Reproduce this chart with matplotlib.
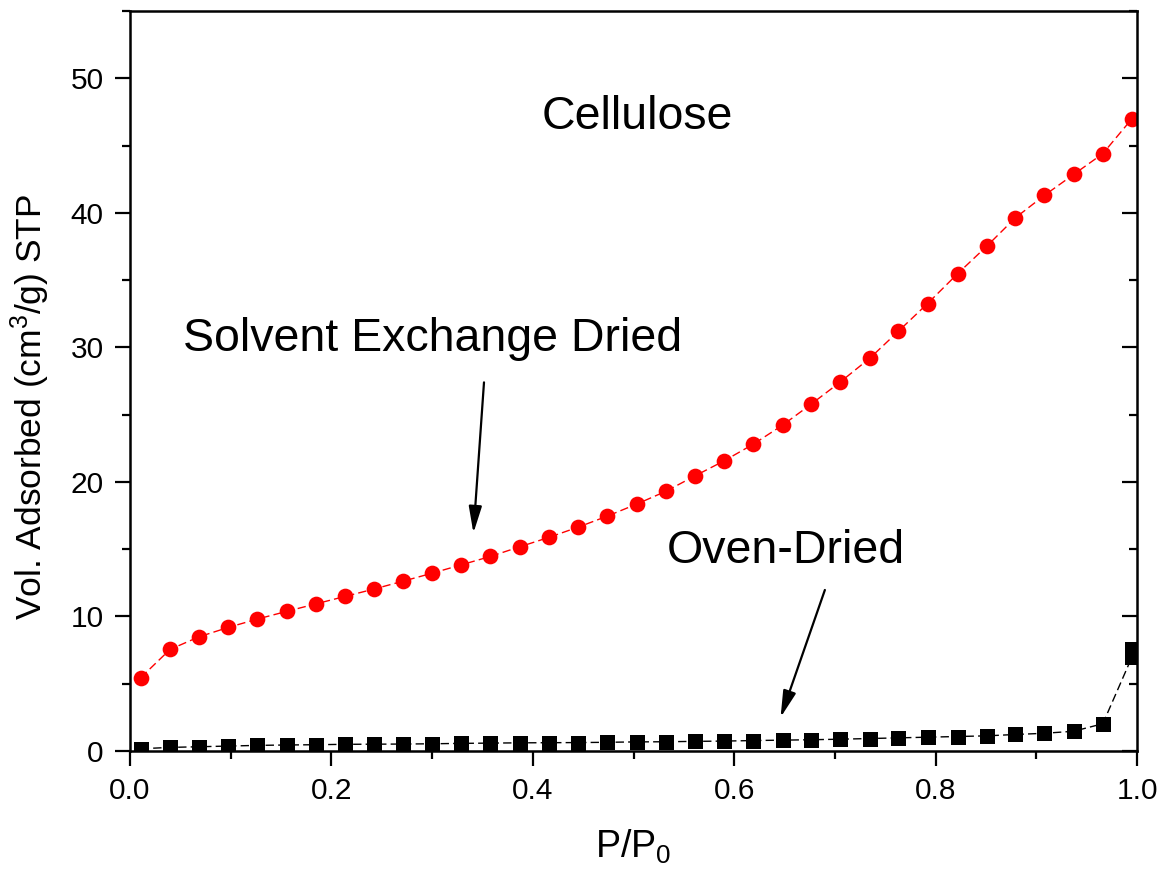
import matplotlib
matplotlib.use("Agg")
import matplotlib.pyplot as plt
from matplotlib.ticker import MultipleLocator

plt.rcParams['font.family'] = ['Liberation Sans', 'DejaVu Sans']
plt.rcParams['mathtext.fontset'] = 'custom'
plt.rcParams['mathtext.rm'] = 'Liberation Sans'
plt.rcParams['mathtext.it'] = 'Liberation Sans'

# ---- data ----
p_p0 = [0.0106, 0.0397, 0.0685, 0.0977, 0.1265, 0.1556, 0.1847, 0.2135, 0.2423,
        0.2714, 0.3002, 0.329, 0.3578, 0.387, 0.416, 0.445, 0.474, 0.503, 0.532,
        0.561, 0.590, 0.619, 0.648, 0.676, 0.705, 0.735, 0.763, 0.792, 0.822,
        0.851, 0.879, 0.908, 0.937, 0.966, 0.995]
solvent_vol = [5.45, 7.55, 8.49, 9.19, 9.81, 10.38, 10.94, 11.49, 12.04, 12.63,
               13.22, 13.84, 14.46, 15.18, 15.88, 16.64, 17.46, 18.35, 19.3,
               20.45, 21.57, 22.81, 24.22, 25.76, 27.41, 29.22, 31.2, 33.26,
               35.49, 37.54, 39.62, 41.3, 42.85, 44.4, 47.0]
oven_p_p0 = p_p0 + [0.995]
oven_vol = [0.17, 0.27, 0.32, 0.37, 0.42, 0.45, 0.47, 0.50, 0.51, 0.52, 0.54,
            0.57, 0.59, 0.61, 0.62, 0.63, 0.65, 0.68, 0.69, 0.72, 0.74, 0.78,
            0.81, 0.84, 0.88, 0.93, 0.98, 1.03, 1.08, 1.13, 1.23, 1.32, 1.47,
            2.03, 7.0, 7.6]

fig = plt.figure(figsize=(11.63, 8.73), dpi=100)
ax = fig.add_axes([0.1118, 0.1397, 0.8659, 0.8477])

ax.plot(p_p0, solvent_vol, color='red', lw=1.0, linestyle=(0, (6, 3)),
        marker='o', ms=11.3, mec='red', mfc='red', mew=0)
ax.plot(oven_p_p0, oven_vol, color='black', lw=1.0, linestyle=(0, (6, 3)),
        marker='s', ms=10.8, mec='black', mfc='black', mew=0)

ax.set_xlim(0, 1.0)
ax.set_ylim(0, 55)
ax.xaxis.set_major_locator(MultipleLocator(0.2))
ax.xaxis.set_minor_locator(MultipleLocator(0.1))
ax.yaxis.set_major_locator(MultipleLocator(10))
ax.yaxis.set_minor_locator(MultipleLocator(5))
ax.xaxis.set_major_formatter(plt.FuncFormatter(lambda v, p: f"{v:.1f}"))

for s in ax.spines.values():
    s.set_linewidth(1.8)

ax.tick_params(axis='both', which='major', direction='out', length=11, width=1.6,
               labelsize=21.5, pad=8, right=True)
ax.tick_params(axis='both', which='minor', direction='out', length=5.5, width=1.6,
               right=True)
# right-side ticks point inward
for t in ax.yaxis.get_major_ticks() + ax.yaxis.get_minor_ticks():
    t.tick2line.set_marker(matplotlib.lines.TICKLEFT)

ax.set_ylabel("Vol. Adsorbed (cm$^3$/g) STP", fontsize=25.5)
ax.yaxis.set_label_coords(-0.077, 0.465)
ax.set_xlabel("P/P$_0$", fontsize=27)
ax.xaxis.set_label_coords(0.5, -0.103)

ax.text(0.504, 46.2, "Cellulose", fontsize=33.5, ha='center', va='baseline')
ax.text(0.0526, 29.7, "Solvent Exchange Dried", fontsize=33.5, ha='left', va='baseline')
ax.text(0.533, 14.0, "Oven-Dried", fontsize=33.5, ha='left', va='baseline')

arrow_kw = dict(arrowstyle='-|>,head_length=0.9,head_width=0.22', color='black',
                lw=1.6, shrinkA=0, shrinkB=0, mutation_scale=18)
ax.annotate("", xy=(0.341, 16.2), xytext=(0.3515, 27.4), arrowprops=arrow_kw)
ax.annotate("", xy=(0.646, 2.5), xytext=(0.690, 11.97), arrowprops=arrow_kw)

fig.savefig("out.png", dpi=100)
